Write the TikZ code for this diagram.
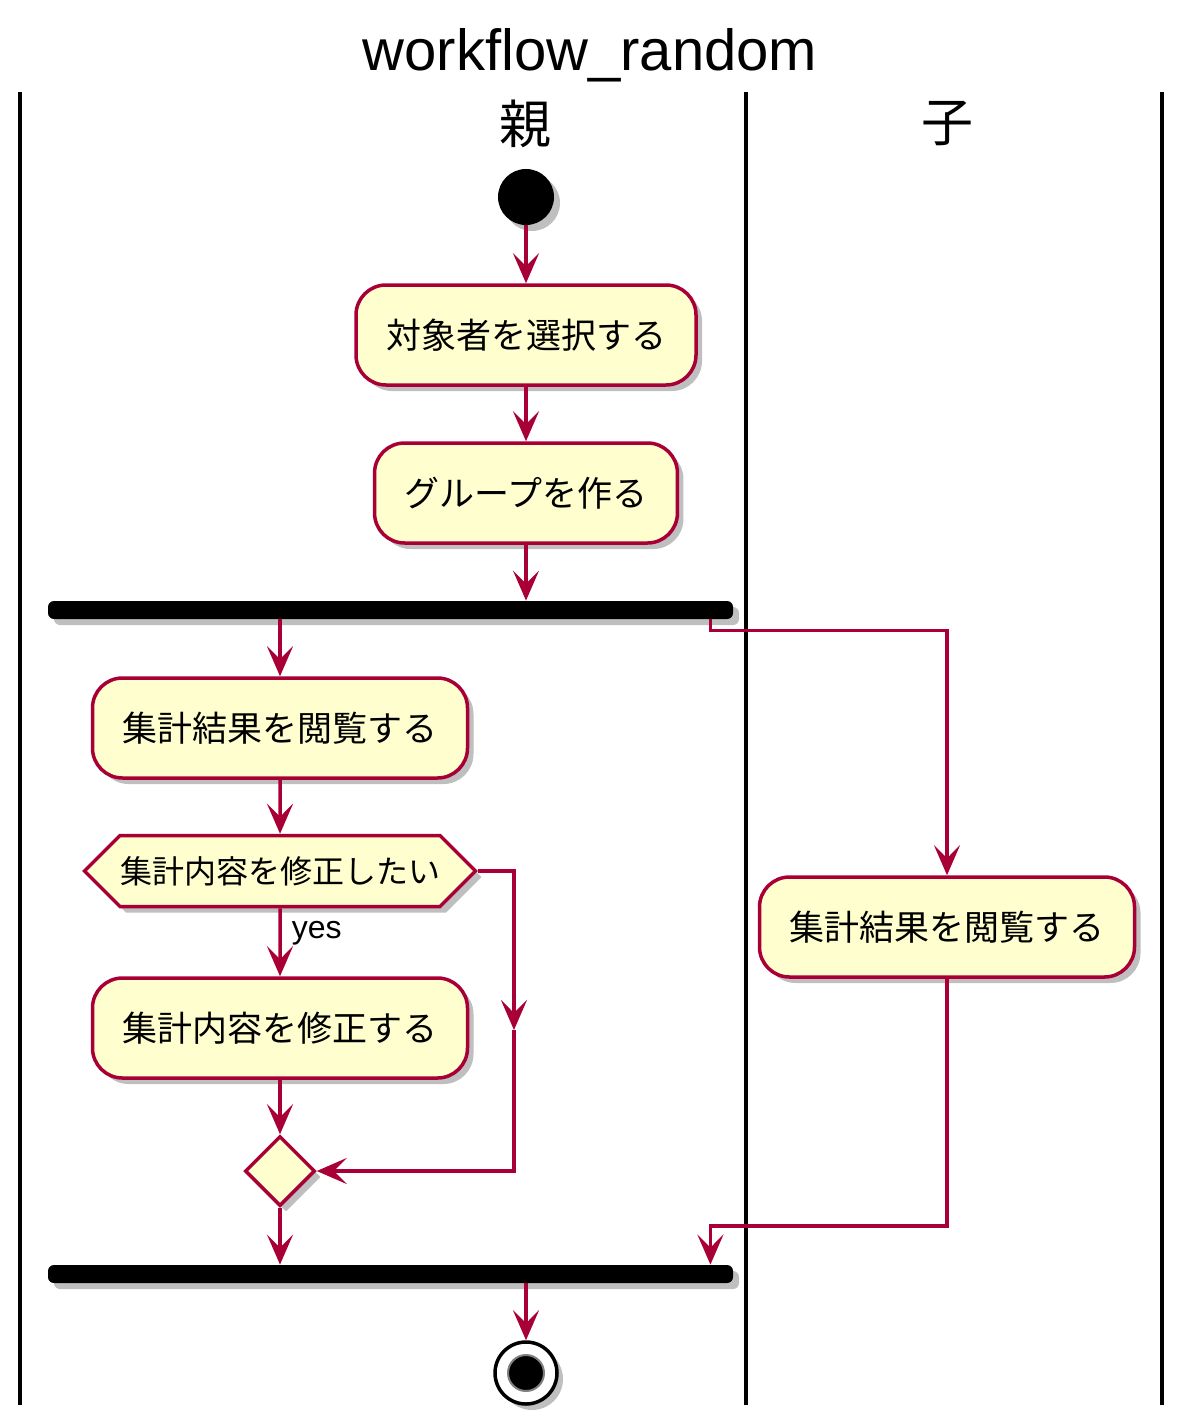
\documentclass[tikz,border=0pt]{standalone}
\usepackage{fontspec}
\setmainfont{Liberation Sans}
\newfontfamily\jpfont{Noto Sans CJK JP}
\usetikzlibrary{positioning,shapes.geometric,shapes.symbols,arrows.meta,shadows}
\definecolor{umlred}{HTML}{A80036}
\definecolor{umlfill}{HTML}{FEFECE}

\begin{document}
\begin{tikzpicture}[%
    x=0.5pt,
    y=-0.5pt,
    flow/.style={%
      draw=umlred,
      line width=1.75pt,
      -{Stealth[length=15pt,width=13pt,inset=6.5pt]}
    },
    umlshadow/.style={%
      drop shadow={shadow xshift=3pt,shadow yshift=-3pt,opacity=0.25,fill=black}
    },
    act/.style={%
      rectangle,
      rounded corners=15pt,
      draw=umlred,
      fill=umlfill,
      line width=1.75pt,
      minimum height=50pt,
      inner xsep=15pt,
      font=\jpfont\fontsize{17.5}{20}\selectfont,
      umlshadow
    },
    ask/.style={%
      signal,
      signal to=west and east,
      signal pointer angle=90,
      draw=umlred,
      fill=umlfill,
      line width=1.75pt,
      minimum height=35.5pt,
      inner xsep=0pt,
      font=\jpfont\fontsize{16}{18}\selectfont,
      umlshadow
    },
    merge/.style={%
      diamond,
      draw=umlred,
      fill=umlfill,
      line width=1.75pt,
      minimum size=35pt,
      inner sep=0pt,
      umlshadow
    },
    bar/.style={%
      rectangle,
      rounded corners=3pt,
      fill=black,
      minimum width=342.5pt,
      minimum height=9pt,
      inner sep=0pt,
      umlshadow
    },
    lane/.style={line width=2pt,draw=black},
    lanehead/.style={font=\jpfont\fontsize{26}{30}\selectfont}
  ]
    \useasboundingbox (0,0) rectangle (1186,1423);

    % title and swimlanes
    \node[font=\fontsize{29}{34}\selectfont] (title) at (590,55) {workflow\_random};
    \node[lanehead] (parent) at (525,124) {親};
    \node[lanehead] (child)  at (947,124) {子};
    \draw[lane] (20,92) -- (20,1405);
    \draw[lane] (746,92) -- (746,1405);
    \draw[lane] (1162,92) -- (1162,1405);

    % activities
    \node[circle,fill=black,minimum size=28pt,inner sep=0pt,umlshadow] (start) at (526,197) {};
    \node[act]   (select) at (526,335)   {対象者を選択する};
    \node[act]   (group)  at (526,493)   {グループを作る};
    \node[bar]   (fork)   at (390.5,610) {};
    \node[act]   (viewP)  at (280,728)   {集計結果を閲覧する};
    \node[ask]   (want)   at (280,871)   {集計内容を修正したい};
    \node[act]   (fix)    at (280,1028)  {集計内容を修正する};
    \node[merge] (merged) at (280,1171)  {};
    \node[bar]   (join)   at (390.5,1274) {};
    \node[act]   (viewC)  at (947,927)   {集計結果を閲覧する};
    \node[circle,draw=black,fill=white,line width=1.75pt,minimum size=31pt,inner sep=0pt,umlshadow] (stop) at (526,1373) {};
    \node[circle,fill=black,draw=gray,line width=1pt,minimum size=18pt,inner sep=0pt] (stopdot) at (stop) {};

    % connectors
    \draw[flow] (start) -- (select);
    \draw[flow] (select) -- (group);
    \draw[flow] (group) -- (group.south |- fork.north);
    \draw[flow] (fork.south -| viewP) -- (viewP);
    \draw[flow] ([xshift=-11.5pt]fork.south east) -- ++(0,11) -| (viewC);
    \draw[flow] (viewP) -- (want);
    \draw[flow] (want) -- node[pos=0.05,anchor=north west,inner sep=1pt,xshift=4pt,yshift=-3pt,font=\fontsize{16}{18}\selectfont] {yes} (fix);
    \draw[flow] (want.east) -- ++(36,0) coordinate (elseturn) -- ++(0,159) coordinate (elsemid);
    \draw[flow] (elsemid) |- (merged.east);
    \draw[flow] (fix) -- (merged);
    \draw[flow] (merged) -- (merged |- join.north);
    \draw[flow] (viewC.south) -- ++(0,247) -| ([xshift=-11.5pt]join.north east);
    \draw[flow] (join.south -| stop) -- (stop);
\end{tikzpicture}
\end{document}
